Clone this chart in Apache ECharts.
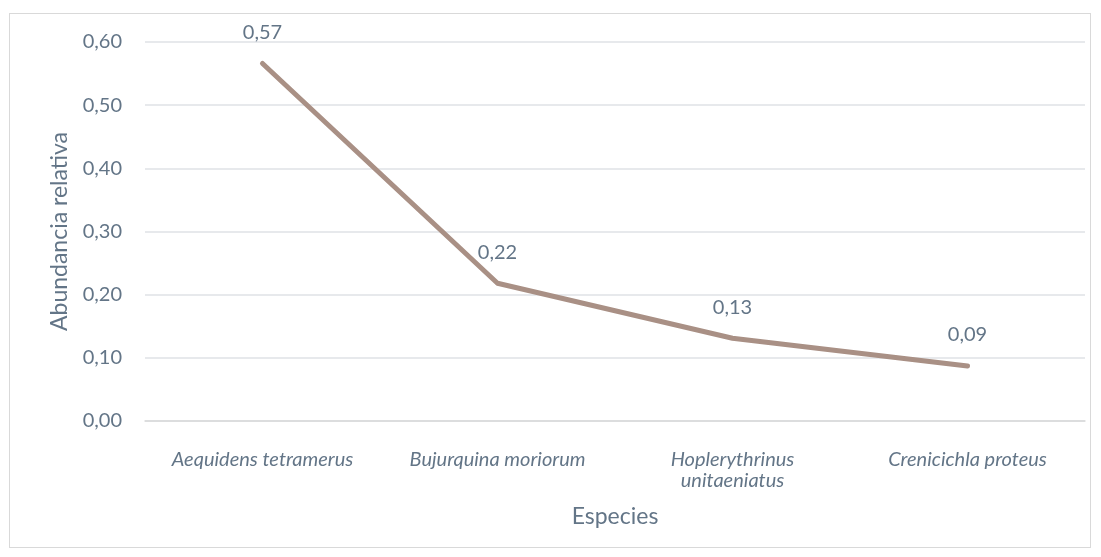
<!DOCTYPE html>
<html>
<head>
<meta charset="utf-8">
<script src="https://cdn.jsdelivr.net/npm/echarts@6/dist/echarts.min.js"></script>
<style>
  html, body { margin: 0; padding: 0; background: #fff; }
  #frame { position: absolute; left: 9px; top: 13px; width: 1082px; height: 535px; border: 1px solid #d9d9d9; box-sizing: border-box; }
  #chart { width: 1101px; height: 557px; }
</style>
</head>
<body>
<div id="frame"></div>
<div id="chart"></div>
<script>
// Species and their relative abundance
const especies = ['Aequidens tetramerus', 'Bujurquina moriorum', 'Hoplerythrinus\nunitaeniatus', 'Crenicichla proteus'];
const abundancia = [0.566, 0.218, 0.131, 0.087];
const yTicks = [0, 0.1, 0.2, 0.3, 0.4, 0.5, 0.6];

const fmt = v => v.toFixed(2).replace('.', ',');
const textColor = '#637587';
const lineColor = '#a99085';
const fontFamily = 'Lato, "Open Sans", sans-serif';

const chart = echarts.init(document.getElementById('chart'), null, { renderer: 'canvas' });
chart.setOption({
  backgroundColor: 'transparent',
  animation: false,
  textStyle: { fontFamily: fontFamily },
  grid: { left: 145, right: 16, top: 42, bottom: 136, containLabel: false },
  xAxis: {
    type: 'category',
    data: especies,
    boundaryGap: true,
    name: 'Especies',
    nameLocation: 'middle',
    nameGap: 84,
    nameTextStyle: { color: textColor, fontSize: 23, fontFamily: fontFamily },
    axisLine: { show: true, lineStyle: { color: '#d9d9d9', width: 1.5 } },
    axisTick: { show: false },
    axisLabel: { color: textColor, fontSize: 20, fontStyle: 'italic', margin: 28, lineHeight: 21, interval: 0, fontFamily: fontFamily }
  },
  yAxis: {
    type: 'value',
    min: yTicks[0],
    max: yTicks[yTicks.length - 1],
    interval: 0.1,
    name: 'Abundancia relativa',
    nameLocation: 'middle',
    nameGap: 74,
    nameRotate: 90,
    nameTextStyle: { color: textColor, fontSize: 23, fontFamily: fontFamily },
    axisLine: { show: false },
    axisTick: { show: false },
    axisLabel: { color: textColor, fontSize: 20, margin: 23, formatter: fmt, fontFamily: fontFamily },
    splitLine: { show: true, lineStyle: { color: '#dfe2e6', width: 1.5 } }
  },
  series: [{
    type: 'line',
    data: abundancia,
    symbol: 'circle',
    symbolSize: 4,
    showSymbol: true,
    itemStyle: { color: lineColor, borderWidth: 0 },
    lineStyle: { color: lineColor, width: 5, cap: 'round', join: 'round' },
    label: {
      show: true,
      position: 'top',
      distance: 19,
      color: textColor,
      fontSize: 20,
      fontFamily: fontFamily,
      formatter: p => fmt(p.value)
    }
  }]
});
</script>
</body>
</html>
